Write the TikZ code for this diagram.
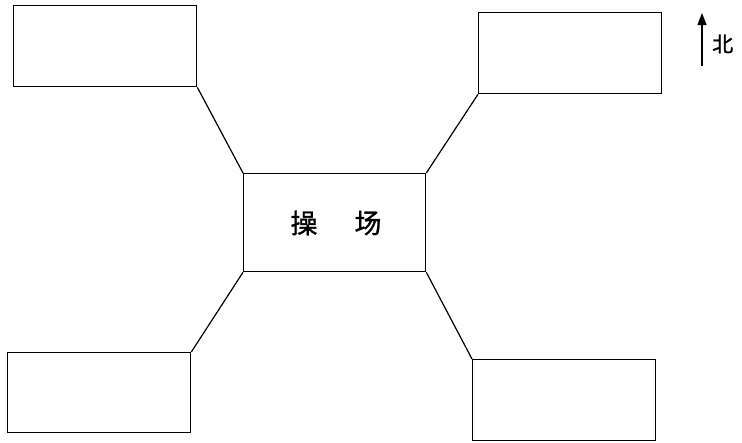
\documentclass[tikz,border=0pt]{standalone}
\usepackage{fontspec}
\newfontfamily\cjk[FakeBold=1.2]{Noto Sans CJK SC}
\usetikzlibrary{arrows.meta}
\begin{document}
\begin{tikzpicture}[x=1pt,y=-1pt,
  box/.style={draw, line width=1.3pt, inner sep=0pt, anchor=north west},
  link/.style={line width=1.2pt}]
\useasboundingbox (0,0) rectangle (742,442);
\node[box, minimum width=183pt, minimum height=81pt] (tl) at (13,5) {};
\node[box, minimum width=183pt, minimum height=81pt] (tr) at (478,12) {};
\node[box, minimum width=182pt, minimum height=98pt] (c) at (243,173) {};
\node[box, minimum width=183pt, minimum height=80pt] (bl) at (7,352) {};
\node[box, minimum width=183pt, minimum height=81pt] (br) at (472,359) {};
\node[font=\cjk\fontsize{27}{27}\selectfont] (t1) at (304,223) {操};
\node[font=\cjk\fontsize{27}{27}\selectfont] (t2) at (368,223) {场};
\draw[link] (tl.south east) -- (c.north west);
\draw[link] (tr.south west) -- (c.north east);
\draw[link] (bl.north east) -- (c.south west);
\draw[link] (br.north west) -- (c.south east);
\coordinate (n0) at (702,66);
\coordinate (n1) at (702,13);
\draw[line width=1.3pt, -{Triangle[length=12pt,width=9pt]}] (n0) -- (n1);
\node[font=\cjk\fontsize{21}{21}\selectfont, anchor=west, inner sep=0pt] (north) at (712,44) {北};
\end{tikzpicture}
\end{document}
